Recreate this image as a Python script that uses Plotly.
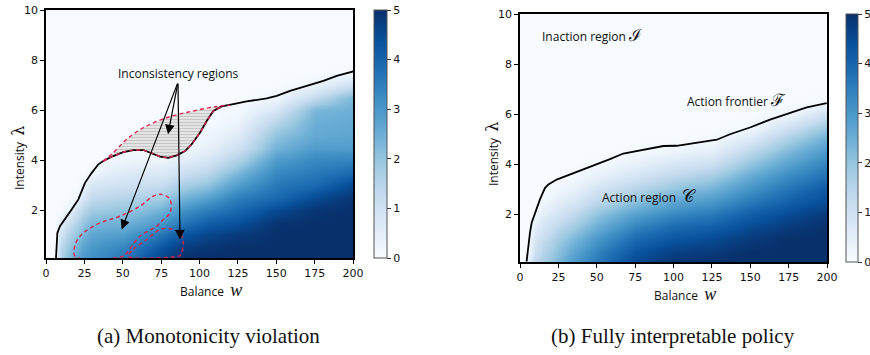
import numpy as np
import plotly.graph_objects as go

# ---------------- data ----------------
blues = ['#f7fbff', '#deebf7', '#c6dbef', '#9ecae1', '#6baed6',
         '#4292c6', '#2171b5', '#08519c', '#08306b']

# (a) heatmap grid (values listed per x column, bottom -> top)
a_x = [0, 6, 10, 15, 20, 25, 30, 40, 50, 60, 75, 90, 105, 125, 150, 175, 200]
a_y = [0.1, 0.5, 1, 1.5, 2, 2.5, 3, 3.5, 4, 4.5, 5, 5.5, 6, 6.5, 7, 7.5, 8, 10]
a_cols = [
    [0, 0, 0, 0, 0, 0, 0, 0, 0, 0, 0, 0, 0, 0, 0, 0, 0, 0],
    [0, 0, 0, 0, 0, 0, 0, 0, 0, 0, 0, 0, 0, 0, 0, 0, 0, 0],
    [1.6, 1.4, 1.0, 0.5, 0, 0, 0, 0, 0, 0, 0, 0, 0, 0, 0, 0, 0, 0],
    [2.2, 2.0, 1.6, 1.1, 0.4, 0, 0, 0, 0, 0, 0, 0, 0, 0, 0, 0, 0, 0],
    [2.7, 2.4, 2.0, 1.6, 1.0, 0.3, 0, 0, 0, 0, 0, 0, 0, 0, 0, 0, 0, 0],
    [3.0, 2.8, 2.4, 2.0, 1.5, 0.9, 0.3, 0, 0, 0, 0, 0, 0, 0, 0, 0, 0, 0],
    [3.2, 3.0, 2.7, 2.3, 1.8, 1.3, 0.8, 0.2, 0, 0, 0, 0, 0, 0, 0, 0, 0, 0],
    [3.4, 3.2, 2.8, 2.4, 1.9, 1.4, 0.9, 0.5, 0.1, 0, 0, 0, 0, 0, 0, 0, 0, 0],
    [3.6, 3.4, 2.9, 2.4, 2.0, 1.5, 1.0, 0.6, 0.25, 0, 0, 0, 0, 0, 0, 0, 0, 0],
    [4.0, 3.7, 3.2, 2.6, 2.1, 1.6, 1.1, 0.7, 0.3, 0.05, 0, 0, 0, 0, 0, 0, 0, 0],
    [4.6, 4.3, 3.7, 3.0, 2.4, 1.8, 1.2, 0.7, 0.25, 0, 0, 0, 0, 0, 0, 0, 0, 0],
    [5.0, 4.8, 4.3, 3.7, 3.1, 2.4, 1.7, 1.1, 0.5, 0.1, 0, 0, 0, 0, 0, 0, 0, 0],
    [5.0, 4.9, 4.6, 4.1, 3.5, 2.8, 2.0, 1.4, 0.8, 0.4, 0.2, 0.05, 0, 0, 0, 0, 0, 0],
    [5.0, 5.0, 4.8, 4.4, 3.9, 3.5, 2.9, 2.3, 1.6, 1.0, 0.6, 0.3, 0.1, 0, 0, 0, 0, 0],
    [5.0, 5.0, 5.0, 4.9, 4.5, 3.9, 3.6, 3.3, 2.9, 2.4, 2.0, 1.5, 0.8, 0.2, 0, 0, 0, 0],
    [5.0, 5.0, 5.0, 5.0, 4.9, 4.5, 3.9, 3.6, 3.3, 2.9, 2.6, 2.5, 2.3, 1.3, 0.3, 0, 0, 0],
    [5.0, 5.0, 5.0, 5.0, 5.0, 4.9, 4.5, 3.9, 3.4, 2.9, 2.7, 2.6, 2.5, 2.3, 1.1, 0.1, 0, 0],
]

# (b) heatmap grid
b_x = [0, 5, 10, 15, 20, 25, 35, 50, 75, 100, 125, 150, 175, 200]
b_y = [0.1, 0.5, 1, 1.5, 2, 2.5, 3, 3.5, 4, 4.5, 5, 5.5, 6, 6.5, 7, 8, 10]
b_cols = [
    [0, 0, 0, 0, 0, 0, 0, 0, 0, 0, 0, 0, 0, 0, 0, 0, 0],
    [0.5, 0, 0, 0, 0, 0, 0, 0, 0, 0, 0, 0, 0, 0, 0, 0, 0],
    [1.3, 1.1, 0.8, 0.5, 0.15, 0, 0, 0, 0, 0, 0, 0, 0, 0, 0, 0, 0],
    [1.7, 1.5, 1.2, 0.9, 0.5, 0.2, 0, 0, 0, 0, 0, 0, 0, 0, 0, 0, 0],
    [2.0, 1.8, 1.5, 1.1, 0.7, 0.35, 0.1, 0, 0, 0, 0, 0, 0, 0, 0, 0, 0],
    [2.3, 2.1, 1.8, 1.4, 0.9, 0.5, 0.2, 0, 0, 0, 0, 0, 0, 0, 0, 0, 0],
    [2.9, 2.7, 2.3, 1.8, 1.3, 0.8, 0.4, 0.1, 0, 0, 0, 0, 0, 0, 0, 0, 0],
    [3.6, 3.4, 3.0, 2.5, 2.0, 1.4, 0.9, 0.4, 0.1, 0, 0, 0, 0, 0, 0, 0, 0],
    [4.5, 4.3, 3.9, 3.4, 2.8, 2.1, 1.5, 0.9, 0.4, 0.05, 0, 0, 0, 0, 0, 0, 0],
    [4.9, 4.7, 4.3, 3.9, 3.3, 2.7, 2.0, 1.4, 0.8, 0.3, 0, 0, 0, 0, 0, 0, 0],
    [5.0, 4.8, 4.5, 4.1, 3.6, 3.0, 2.4, 1.8, 1.1, 0.5, 0.1, 0, 0, 0, 0, 0, 0],
    [5.0, 5.0, 4.8, 4.5, 4.1, 3.6, 3.1, 2.6, 2.0, 1.4, 0.7, 0.1, 0, 0, 0, 0, 0],
    [5.0, 5.0, 5.0, 4.8, 4.5, 4.1, 3.7, 3.3, 2.8, 2.3, 1.7, 1.0, 0.2, 0, 0, 0, 0],
    [5.0, 5.0, 5.0, 5.0, 4.8, 4.5, 4.2, 3.8, 3.4, 3.0, 2.5, 1.9, 1.0, 0.1, 0, 0, 0],
]

# action frontiers
front_a_x = [6.5, 7.4, 9.1, 12.4, 16.7, 21.1, 25.4, 29.8, 34.1, 37.3, 43.8, 50.4, 56.9, 63.4,
             68.9, 74.3, 79.7, 85.1, 90.6, 94.9, 100.3, 104.7, 109.0, 114.5, 122.0, 130.7,
             143.8, 150.3, 159.0, 172.0, 180.7, 189.4, 195.9, 200.2]
front_a_y = [0.1, 1.1, 1.37, 1.64, 2.04, 2.44, 3.1, 3.5, 3.84, 3.97, 4.17, 4.33, 4.41, 4.41,
             4.28, 4.15, 4.1, 4.2, 4.37, 4.64, 5.1, 5.57, 5.97, 6.15, 6.24, 6.35,
             6.47, 6.57, 6.77, 7.0, 7.17, 7.37, 7.48, 7.55]
front_b_x = [4.3, 5.4, 6.5, 7.6, 9.8, 13.0, 16.3, 18.5, 23.9, 32.6, 41.3, 50.0, 58.6, 67.3,
             76.0, 84.7, 93.4, 102.0, 110.8, 119.4, 128.2, 136.8, 149.8, 162.9, 175.9,
             186.8, 199.8]
front_b_y = [0.12, 0.74, 1.27, 1.67, 2.07, 2.6, 3.06, 3.19, 3.39, 3.59, 3.79, 4.02, 4.21, 4.43,
             4.54, 4.65, 4.73, 4.74, 4.82, 4.88, 4.98, 5.2, 5.47, 5.78, 6.04, 6.27, 6.44]

# inconsistency regions (dashed outlines)
hatch_top_x = [37.3, 43.8, 52.6, 63.4, 78.6, 96.0, 111.2, 119.9]
hatch_top_y = [3.97, 4.3, 4.84, 5.3, 5.7, 5.97, 6.15, 6.2]
loop1_x = [18.9, 19.5, 24.3, 35.2, 48.2, 61.2, 69.9, 75.4, 80.8, 80.8, 76.4, 72.1, 61.2, 52.6, 50.4, 18.9]
loop1_y = [0.17, 0.7, 1.1, 1.5, 1.77, 2.17, 2.57, 2.64, 2.44, 1.9, 1.64, 1.37, 0.97, 0.3, 0.17, 0.17]
loop2_x = [53.6, 56.9, 65.6, 74.3, 80.8, 87.3, 89.5, 87.3, 86.2, 53.6]
loop2_y = [0.17, 0.44, 0.84, 1.24, 1.27, 1.1, 0.7, 0.2, 0.17, 0.17]

# arrows in (a)
arrow_tail = (86.0, 7.12)
arrow_heads_x = [79.5, 49.3, 87.3]
arrow_heads_y = [5.04, 1.24, 0.84]

x_ticks = [0, 25, 50, 75, 100, 125, 150, 175, 200]
y_ticks = [2, 4, 6, 8, 10]
cb_ticks = [0, 1, 2, 3, 4, 5]

# ---------------- figure ----------------
W, H = 870, 355
cscale = [[i / (len(blues) - 1), c] for i, c in enumerate(blues)]
RED = '#e0224e'
TICKFONT = dict(family='DejaVu Sans', size=11, color='#111')
LBLFONT = dict(family='Open Sans', size=12, color='#111')
AXFONT = dict(family='Open Sans', size=12, color='#111')


def px_x(p):
    return p / W


def px_y(p):
    return 1 - p / H


fig = go.Figure()

def colorbar(x0, y0, y1, thick):
    return dict(x=px_x(x0), xanchor='left', xpad=0, y=px_y(y0), yanchor='top', ypad=0,
                len=(y1 - y0) / H, lenmode='fraction', thickness=thick,
                outlinewidth=1, outlinecolor='#555', ticks='outside', ticklen=4,
                tickcolor='#333', tickvals=cb_ticks, tickfont=TICKFONT)

fig.add_trace(go.Heatmap(x=a_x, y=a_y, z=np.array(a_cols).T, zmin=0, zmax=5,
                         colorscale=cscale, zsmooth='best', xaxis='x', yaxis='y',
                         colorbar=colorbar(374, 10, 258, 13), hoverinfo='skip'))
fig.add_trace(go.Heatmap(x=b_x, y=b_y, z=np.array(b_cols).T, zmin=0, zmax=5,
                         colorscale=cscale, zsmooth='best', xaxis='x2', yaxis='y2',
                         colorbar=colorbar(846, 14, 262, 12), hoverinfo='skip'))

# hatched inconsistency region above the frontier
fa_x = np.array(front_a_x)
fa_y = np.array(front_a_y)
sel = (fa_x >= hatch_top_x[0] - 0.01) & (fa_x <= hatch_top_x[-1] + 0.01)
poly_x = list(hatch_top_x) + list(fa_x[sel][::-1])
poly_y = list(hatch_top_y) + list(fa_y[sel][::-1])
fig.add_trace(go.Scatter(x=poly_x, y=poly_y, fill='toself', mode='none',
                         fillcolor='#dcdcdc',
                         fillpattern=dict(shape='-', size=3, solidity=0.35,
                                          fgcolor='#a8a8a8', bgcolor='#e4e4e4'),
                         xaxis='x', yaxis='y', hoverinfo='skip'))

# frontiers
fig.add_trace(go.Scatter(x=front_a_x, y=front_a_y, mode='lines',
                         line=dict(color='black', width=1.8), xaxis='x', yaxis='y'))
fig.add_trace(go.Scatter(x=front_b_x, y=front_b_y, mode='lines',
                         line=dict(color='black', width=1.8), xaxis='x2', yaxis='y2'))

# red dashed outlines
dash_line = dict(color=RED, width=1.4, dash='4px,3px')
fig.add_trace(go.Scatter(x=hatch_top_x, y=hatch_top_y, mode='lines', line=dash_line,
                         line_shape='spline', xaxis='x', yaxis='y'))
fig.add_trace(go.Scatter(x=list(fa_x[sel]), y=list(fa_y[sel]), mode='lines', line=dash_line,
                         xaxis='x', yaxis='y'))
fig.add_trace(go.Scatter(x=loop1_x, y=loop1_y, mode='lines', line=dash_line,
                         line_shape='spline', xaxis='x', yaxis='y'))
fig.add_trace(go.Scatter(x=loop2_x, y=loop2_y, mode='lines', line=dash_line,
                         line_shape='spline', xaxis='x', yaxis='y'))

ann = []
for hx, hy in zip(arrow_heads_x, arrow_heads_y):
    ann.append(dict(x=hx, y=hy, ax=arrow_tail[0], ay=arrow_tail[1], xref='x', yref='y',
                    axref='x', ayref='y', text='', showarrow=True, arrowhead=2,
                    arrowsize=1.6, arrowwidth=1.2, arrowcolor='black'))
ann.append(dict(x=86.5, y=7.48, xref='x', yref='y', text='Inconsistency regions',
                showarrow=False, font=LBLFONT, xanchor='center', yanchor='middle'))

ann.append(dict(x=47, y=9.2, xref='x2', yref='y2', showarrow=False, font=LBLFONT,
                xanchor='center', yanchor='middle',
                text='Inaction region <span style="font-size:17px">ℐ</span>'))
ann.append(dict(x=141, y=6.6, xref='x2', yref='y2', showarrow=False, font=LBLFONT,
                xanchor='center', yanchor='middle',
                text='Action frontier <span style="font-size:17px">ℱ</span>'))
ann.append(dict(x=84, y=2.75, xref='x2', yref='y2', showarrow=False, font=LBLFONT,
                xanchor='center', yanchor='middle',
                text='Action region  <span style="font-size:17px">𝒞</span>'))

wlab = 'Balance  <span style="font-family:Liberation Serif;font-size:18px"><i>w</i></span>'
llab = 'Intensity  <span style="font-family:DejaVu Serif;font-size:16px">λ</span>'
ann.append(dict(x=px_x(211), y=px_y(290), xref='paper', yref='paper', text=wlab,
                showarrow=False, font=AXFONT, xanchor='center', yanchor='middle'))
ann.append(dict(x=px_x(685), y=px_y(294), xref='paper', yref='paper', text=wlab,
                showarrow=False, font=AXFONT, xanchor='center', yanchor='middle'))
ann.append(dict(x=px_x(18), y=px_y(158), xref='paper', yref='paper', text=llab,
                textangle=-90, showarrow=False, font=AXFONT, xanchor='center',
                yanchor='middle'))
ann.append(dict(x=px_x(492), y=px_y(154), xref='paper', yref='paper', text=llab,
                textangle=-90, showarrow=False, font=AXFONT, xanchor='center',
                yanchor='middle'))

capfont = dict(family='Liberation Serif', size=21, color='#111')
ann.append(dict(x=px_x(208), y=px_y(336), xref='paper', yref='paper', xanchor='center',
                yanchor='middle', text='(a) Monotonicity violation', showarrow=False,
                font=capfont))
ann.append(dict(x=px_x(673), y=px_y(336), xref='paper', yref='paper', xanchor='center',
                yanchor='middle', text='(b) Fully interpretable policy', showarrow=False,
                font=capfont))

axis_common = dict(showline=True, mirror=True, linecolor='black', linewidth=1.5,
                   ticks='outside', ticklen=4, tickcolor='black', showgrid=False,
                   zeroline=False, tickfont=TICKFONT)

fig.update_layout(
    width=W, height=H, margin=dict(l=0, r=0, t=0, b=0, autoexpand=False),
    paper_bgcolor='white', plot_bgcolor='white', showlegend=False,
    xaxis=dict(domain=[px_x(46), px_x(353)], range=[0, 200], tickvals=x_ticks,
               anchor='y', **axis_common),
    yaxis=dict(domain=[px_y(258), px_y(10)], range=[0.1, 10], tickvals=y_ticks,
               anchor='x', **axis_common),
    xaxis2=dict(domain=[px_x(520), px_x(827)], range=[0, 200], tickvals=x_ticks,
                anchor='y2', **axis_common),
    yaxis2=dict(domain=[px_y(262), px_y(14)], range=[0.1, 10], tickvals=y_ticks,
                anchor='x2', **axis_common),
    annotations=ann,
)

fig.write_html("out.html", config={'displayModeBar': False},
               post_script="document.body.style.margin='0px';document.body.style.overflow='hidden';")
